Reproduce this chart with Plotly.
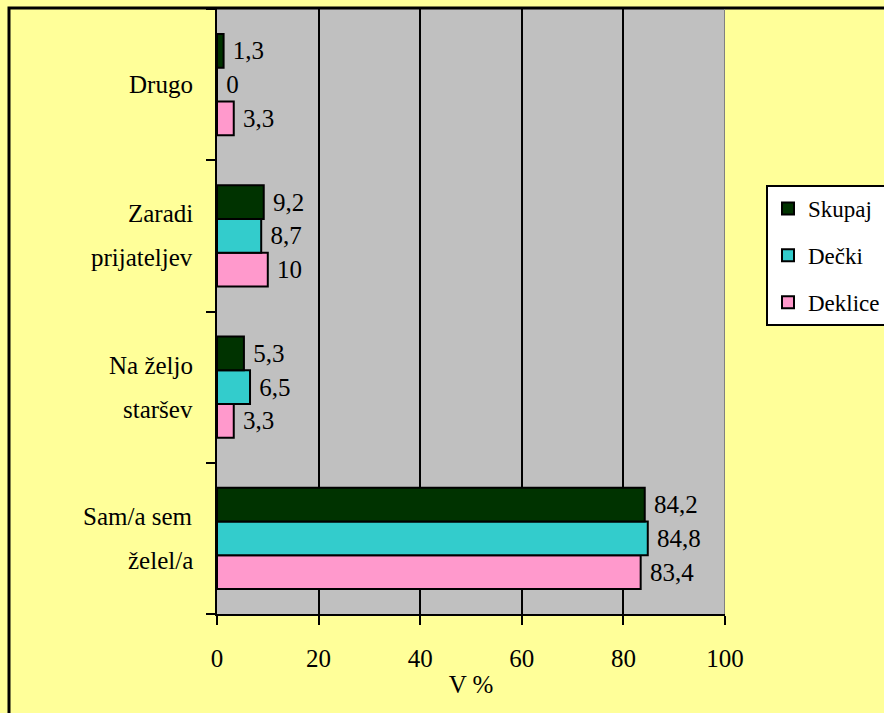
import plotly.graph_objects as go

# Reasons, listed bottom to top as they appear on the category axis
categories = ["Sam/a sem želel/a", "Na željo staršev", "Zaradi prijateljev", "Drugo"]
label_lines = [["Sam/a sem", "želel/a"], ["Na željo", "staršev"],
               ["Zaradi", "prijateljev"], ["Drugo"]]

skupaj = [84.2, 5.3, 9.2, 1.3]
decki = [84.8, 6.5, 8.7, 0]
deklice = [83.4, 3.3, 10, 3.3]

x_ticks = [0, 20, 40, 60, 80, 100]

FONT = "Liberation Serif, Tinos, Times New Roman, DejaVu Serif, serif"
FS = 25

def fmt(v):
    return "\u00a0" + f"{v:g}".replace(".", ",")

series = [
    ("Deklice", deklice, "#FF99CC", 3),
    ("Dečki", decki, "#33CCCC", 2),
    ("Skupaj", skupaj, "#003300", 1),
]

fig = go.Figure()
for name, vals, color, rank in series:
    fig.add_trace(go.Bar(
        y=categories, x=vals, name=name, orientation="h",
        legendgroup=name, legendrank=rank,
        marker=dict(color=color, line=dict(color="black", width=2)),
        text=[fmt(v) for v in vals], textposition="outside",
        constraintext="none", cliponaxis=False,
        textfont=dict(family=FONT, size=FS, color="black"),
    ))

# Two-line category labels with wide line spacing
annotations = []
for cat, lines in zip(categories, label_lines):
    if len(lines) == 1:
        shifts = [0]
    else:
        shifts = [22, -22]
    for line, sh in zip(lines, shifts):
        annotations.append(dict(
            x=0, xref="paper", xshift=-22, xanchor="right",
            y=cat, yref="y", yshift=sh, yanchor="middle",
            text=line, showarrow=False,
            font=dict(family=FONT, size=FS, color="black"),
        ))

fig.update_layout(
    width=884, height=713,
    margin=dict(l=217, r=159, t=9, b=99, autoexpand=False),
    paper_bgcolor="#FFFF99", plot_bgcolor="#C0C0C0",
    barmode="group", bargap=0.33, bargroupgap=0,
    font=dict(family=FONT, size=FS, color="black"),
    showlegend=True,
    legend=dict(
        x=(766 - 217) / 508, xanchor="left",
        y=(614 - 185) / 605, yanchor="top",
        bgcolor="white", bordercolor="black", borderwidth=2,
        traceorder="grouped", tracegroupgap=14,
        font=dict(family=FONT, size=23, color="black"),
    ),
    annotations=annotations,
    shapes=[
        # outer frame of the chart area
        dict(type="rect", xref="paper", yref="paper",
             x0=(9 - 217) / 508, x1=1.6, y0=-0.5, y1=(614 - 8) / 605,
             line=dict(color="black", width=3), fillcolor="rgba(0,0,0,0)",
             layer="above"),
        # right edge of the plot area
        dict(type="line", xref="x", yref="paper", x0=100, x1=100, y0=0, y1=1,
             line=dict(color="#808080", width=2), layer="above"),
    ],
)

fig.update_xaxes(
    range=[0, 100], tickvals=x_ticks, ticktext=[str(t) for t in x_ticks],
    showgrid=True, gridcolor="black", gridwidth=2, zeroline=False,
    showline=True, linecolor="black", linewidth=2,
    ticks="outside", ticklen=9, tickwidth=2, tickcolor="black",
    ticklabelstandoff=12,
    tickfont=dict(family=FONT, size=FS),
    title=dict(text="V %", standoff=4, font=dict(family=FONT, size=FS)),
    fixedrange=True,
)
fig.update_yaxes(
    categoryorder="array", categoryarray=categories,
    showticklabels=False, showgrid=False, zeroline=False,
    showline=True, linecolor="black", linewidth=2,
    ticks="outside", ticklen=9, tickwidth=2, tickcolor="black",
    tickson="boundaries", fixedrange=True,
)

fig.write_html("out.html")
